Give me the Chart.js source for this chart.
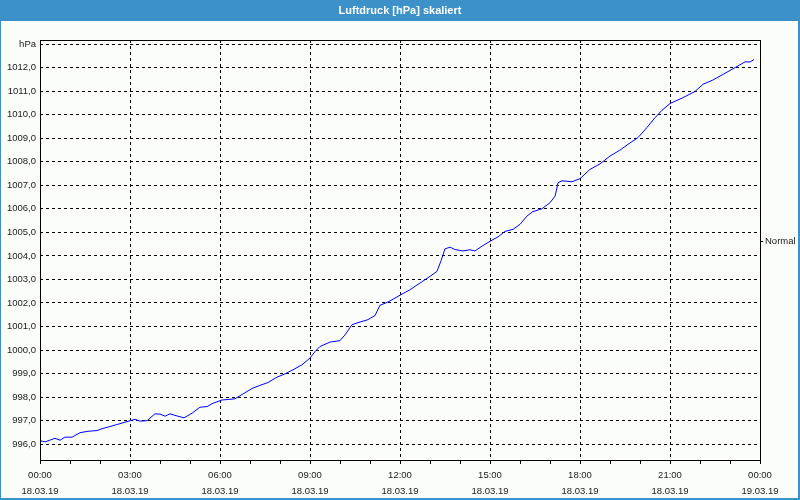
<!DOCTYPE html>
<html>
<head>
<meta charset="utf-8">
<title>Luftdruck</title>
<script src="https://cdn.jsdelivr.net/npm/chart.js@4/dist/chart.umd.min.js"></script>
<style>
  html, body { margin: 0; padding: 0; background: #fbfdfb; }
  canvas { display: block; }
</style>
</head>
<body>
<canvas id="chart" width="800" height="500"></canvas>
<script>
// time of day in hours since 18.03.19 00:00
var hours = [
    0.00, 0.17, 0.50, 0.67, 0.83, 1.07, 1.33, 1.60, 1.90, 2.07,
    2.33, 2.60, 2.90, 3.17, 3.33, 3.57, 3.83, 4.00, 4.17, 4.33,
    4.57, 4.80, 5.07, 5.33, 5.57, 5.77, 6.07, 6.27, 6.50, 6.77,
    7.07, 7.33, 7.60, 7.90, 8.17, 8.43, 8.73, 9.00, 9.17, 9.33,
    9.67, 10.00, 10.17, 10.40, 10.67, 10.93, 11.17, 11.33, 11.60, 12.00,
    12.33, 12.67, 13.00, 13.23, 13.37, 13.50, 13.67, 13.83, 14.10, 14.33,
    14.50, 14.73, 15.00, 15.27, 15.50, 15.77, 16.00, 16.23, 16.43, 16.73,
    17.00, 17.17, 17.27, 17.40, 17.73, 18.00, 18.33, 18.67, 19.00, 19.33,
    19.60, 19.93, 20.23, 20.50, 20.73, 21.00, 21.43, 21.83, 22.10, 22.43,
    22.77, 23.17, 23.50, 23.67, 23.80
];
// pressure in hPa
var pressure = [
    996.15, 996.10, 996.25, 996.17, 996.30, 996.30, 996.49, 996.55, 996.58, 996.66,
    996.75, 996.85, 996.96, 997.06, 996.98, 997.00, 997.29, 997.28, 997.19, 997.29,
    997.20, 997.12, 997.32, 997.57, 997.60, 997.74, 997.88, 997.90, 997.93, 998.14,
    998.37, 998.50, 998.62, 998.85, 998.99, 999.16, 999.37, 999.66, 999.94, 1000.15,
    1000.34, 1000.40, 1000.65, 1001.08, 1001.19, 1001.29, 1001.47, 1001.90, 1002.04, 1002.33,
    1002.56, 1002.85, 1003.13, 1003.34, 1003.80, 1004.30, 1004.37, 1004.27, 1004.21, 1004.26,
    1004.21, 1004.41, 1004.62, 1004.81, 1005.04, 1005.13, 1005.34, 1005.69, 1005.88, 1006.00,
    1006.26, 1006.54, 1007.11, 1007.19, 1007.15, 1007.28, 1007.67, 1007.91, 1008.24, 1008.49,
    1008.74, 1009.02, 1009.45, 1009.87, 1010.18, 1010.47, 1010.72, 1010.98, 1011.29, 1011.47,
    1011.71, 1012.00, 1012.24, 1012.24, 1012.34
];

var xTimeLabels = ["00:00", "03:00", "06:00", "09:00", "12:00", "15:00", "18:00", "21:00", "00:00"];
var xDateLabels = ["18.03.19", "18.03.19", "18.03.19", "18.03.19", "18.03.19", "18.03.19", "18.03.19", "18.03.19", "19.03.19"];
var yUnit = "hPa";
var yMin = 995.33, yMax = 1013.17;
var yFirstTick = 996, yLastTick = 1013;
var normalLevel = 1004.6;
var normalLabel = "Normal";

var barColor = "#3c91c8";
var tickFont = { family: "Liberation Sans", size: 9.5 };

var points = hours.map(function (h, i) { return { x: h, y: pressure[i] }; });

var framePlugin = {
    id: "frame",
    beforeDraw: function (chart) {
        var ctx = chart.ctx;
        ctx.save();
        ctx.fillStyle = "#fbfdfb";
        ctx.fillRect(0, 0, chart.width, chart.height);
        ctx.fillStyle = barColor;
        ctx.fillRect(0, 0, chart.width, 21);
        ctx.restore();
    },
    afterDraw: function (chart) {
        var ctx = chart.ctx, a = chart.chartArea;
        ctx.save();
        ctx.setLineDash([]);
        ctx.strokeStyle = "#000";
        ctx.lineWidth = 1;
        ctx.strokeRect(Math.round(a.left) + 0.5, Math.round(a.top) + 0.5,
            Math.round(a.right - a.left), Math.round(a.bottom - a.top));
        ctx.fillStyle = barColor;
        ctx.fillRect(0, 0, 1, chart.height);
        ctx.fillRect(chart.width - 2, 0, 2, chart.height);
        ctx.fillRect(0, chart.height - 2, chart.width, 2);
        ctx.restore();
    }
};

new Chart(document.getElementById("chart"), {
    type: "line",
    data: {
        datasets: [{
            data: points,
            borderColor: "#0000ff",
            borderWidth: 1,
            pointRadius: 0,
            tension: 0,
            xAxisID: "x",
            yAxisID: "y"
        }]
    },
    options: {
        responsive: false,
        animation: false,
        devicePixelRatio: 1,
        layout: { padding: 0 },
        plugins: {
            legend: { display: false },
            tooltip: { enabled: false },
            title: {
                display: true,
                text: "Luftdruck [hPa] skaliert",
                color: "#ffffff",
                font: { family: "Liberation Sans", size: 11, weight: "bold" },
                padding: { top: 4, bottom: 22.8 }
            }
        },
        scales: {
            x: {
                type: "linear",
                min: 0,
                max: 24,
                afterBuildTicks: function (scale) {
                    var t = [];
                    for (var h = 0; h <= 24; h++) t.push({ value: h });
                    scale.ticks = t;
                },
                afterFit: function (scale) { scale.height = 40; },
                border: { display: false, dash: [3, 3] },
                grid: {
                    color: function (c) {
                        var v = c.tick ? c.tick.value : 0;
                        return (v % 3 === 0 && v > 0 && v < 24) ? "#000" : "rgba(0,0,0,0)";
                    },
                    tickColor: "#000",
                    tickLength: 4,
                    tickBorderDash: []
                },
                ticks: {
                    autoSkip: false,
                    maxRotation: 0,
                    padding: 4,
                    color: "#1a1a1a",
                    font: { family: "Liberation Sans", size: 9.5, lineHeight: 1.65 },
                    callback: function (v) {
                        if (v % 3 !== 0) return "";
                        return [xTimeLabels[v / 3], xDateLabels[v / 3]];
                    }
                }
            },
            y: {
                type: "linear",
                position: "left",
                min: yMin,
                max: yMax,
                afterBuildTicks: function (scale) {
                    var t = [];
                    for (var v = yFirstTick; v <= yLastTick; v++) t.push({ value: v });
                    scale.ticks = t;
                },
                afterFit: function (scale) { scale.width = 40; },
                border: { display: false, dash: [3, 3] },
                grid: { color: "#000", drawTicks: false },
                ticks: {
                    padding: 4,
                    color: "#1a1a1a",
                    font: tickFont,
                    callback: function (v) {
                        return v === yLastTick ? yUnit : v.toFixed(1).replace(".", ",");
                    }
                }
            },
            yR: {
                type: "linear",
                position: "right",
                min: yMin,
                max: yMax,
                afterBuildTicks: function (scale) { scale.ticks = [{ value: normalLevel }]; },
                afterFit: function (scale) { scale.width = 40; },
                border: { display: false },
                grid: { drawOnChartArea: false, tickColor: "#000", tickLength: 3 },
                ticks: {
                    padding: 2,
                    color: "#1a1a1a",
                    font: tickFont,
                    callback: function () { return normalLabel; }
                }
            }
        }
    },
    plugins: [framePlugin]
});
</script>
</body>
</html>
